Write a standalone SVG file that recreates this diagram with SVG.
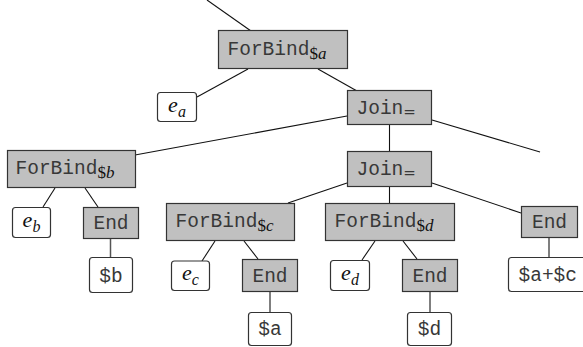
<svg xmlns="http://www.w3.org/2000/svg" width="583" height="347" viewBox="0 0 583 347">
  <style>
    .op { fill: #c0c0c0; stroke: #333; stroke-width: 1.2; }
    .val { fill: #fff; stroke: #333; stroke-width: 1.2; }
    .mono { font-family: "Liberation Mono", "Courier New", monospace; font-size: 19.5px; fill: #383838; }
    .math { font-family: "Liberation Serif", "Times New Roman", serif; font-size: 22px; font-style: italic; fill: #111; }
    .sub { font-family: "Liberation Serif", "Times New Roman", serif; font-size: 17px; font-style: normal; fill: #111; }
    .esub { font-family: "Liberation Serif", "Times New Roman", serif; font-size: 16px; font-style: italic; }
    .it { font-style: italic; }
    .eq { font-family: "DejaVu Sans", sans-serif; font-size: 15px; }
    .edge { stroke: #111; stroke-width: 1.1; fill: none; }
    .stem { stroke: #555; stroke-width: 1.5; fill: none; }
  </style>

  <!-- tree edges -->
  <g id="connectors">
    <line class="edge" x1="207" y1="0" x2="251" y2="31"/>
    <line class="edge" x1="248" y1="69" x2="197" y2="97"/>
    <line class="edge" x1="318" y1="69" x2="357" y2="91"/>
    <line class="edge" x1="432" y1="120" x2="540" y2="152"/>
    <line class="edge" x1="347" y1="116" x2="135" y2="155"/>
    <line class="edge" x1="389.5" y1="125" x2="389.5" y2="152"/>
    <line class="edge" x1="55" y1="188" x2="43" y2="207"/>
    <line class="edge" x1="85" y1="188" x2="98" y2="207"/>
    <line class="stem" x1="110.5" y1="239" x2="110.5" y2="257"/>
    <line class="edge" x1="347" y1="183" x2="288" y2="203"/>
    <line class="edge" x1="215" y1="241" x2="202" y2="261"/>
    <line class="edge" x1="244" y1="241" x2="258" y2="259"/>
    <line class="stem" x1="270" y1="292" x2="270" y2="312"/>
    <line class="edge" x1="389.5" y1="187" x2="389.5" y2="203"/>
    <line class="edge" x1="375" y1="241" x2="362" y2="260"/>
    <line class="edge" x1="403" y1="241" x2="417" y2="259"/>
    <line class="stem" x1="430" y1="292" x2="430" y2="312"/>
    <line class="edge" x1="432" y1="183" x2="521" y2="213"/>
    <line class="stem" x1="549" y1="238" x2="549" y2="257"/>
  </g>

  <g id="forbind-a">
    <rect class="op" x="218.5" y="30.5" width="129" height="38"/>
    <text class="mono" x="227.5" y="55">ForBind<tspan class="sub" dy="4">$</tspan><tspan class="sub it">a</tspan></text>
  </g>
  <g id="e-a">
    <rect class="val" x="157.5" y="92.5" width="39" height="29" rx="3"/>
    <text class="math" x="177" y="112" text-anchor="middle">e<tspan class="esub" dy="5">a</tspan></text>
  </g>
  <g id="join-1">
    <rect class="op" x="347.5" y="90.5" width="84" height="34"/>
    <text class="mono" x="356.5" y="114">Join<tspan class="eq" dy="3">=</tspan></text>
  </g>
  <g id="join-2">
    <rect class="op" x="347.5" y="151.5" width="84" height="35"/>
    <text class="mono" x="356.5" y="175">Join<tspan class="eq" dy="3">=</tspan></text>
  </g>

  <g id="forbind-b">
    <rect class="op" x="7.5" y="150.5" width="128" height="37"/>
    <text class="mono" x="15.5" y="173.5">ForBind<tspan class="sub" dy="4">$</tspan><tspan class="sub it">b</tspan></text>
  </g>
  <g id="e-b">
    <rect class="val" x="12.5" y="207.5" width="38" height="30" rx="3"/>
    <text class="math" x="31.5" y="227" text-anchor="middle">e<tspan class="esub" dy="5">b</tspan></text>
  </g>
  <g id="end-b">
    <rect class="op" x="83.5" y="207.5" width="55" height="31"/>
    <text class="mono" x="111" y="229" text-anchor="middle">End</text>
  </g>
  <g id="var-b">
    <rect class="val" x="89.5" y="257.5" width="43" height="35" rx="3"/>
    <text class="mono" x="111" y="281.5" text-anchor="middle">$b</text>
  </g>

  <g id="forbind-c">
    <rect class="op" x="166.5" y="203.5" width="128" height="37"/>
    <text class="mono" x="175.5" y="227">ForBind<tspan class="sub" dy="4">$</tspan><tspan class="sub it">c</tspan></text>
  </g>
  <g id="e-c">
    <rect class="val" x="171.5" y="261" width="38" height="29.5" rx="3"/>
    <text class="math" x="190.5" y="280" text-anchor="middle">e<tspan class="esub" dy="5">c</tspan></text>
  </g>
  <g id="end-c">
    <rect class="op" x="242.5" y="259.5" width="55" height="32"/>
    <text class="mono" x="270" y="281.5" text-anchor="middle">End</text>
  </g>
  <g id="var-a">
    <rect class="val" x="248.5" y="312.5" width="43" height="33" rx="3"/>
    <text class="mono" x="270" y="335" text-anchor="middle">$a</text>
  </g>

  <g id="forbind-d">
    <rect class="op" x="325.5" y="203.5" width="129" height="37"/>
    <text class="mono" x="334.5" y="227">ForBind<tspan class="sub" dy="4">$</tspan><tspan class="sub it">d</tspan></text>
  </g>
  <g id="e-d">
    <rect class="val" x="330.5" y="260.5" width="39" height="30" rx="3"/>
    <text class="math" x="350" y="280" text-anchor="middle">e<tspan class="esub" dy="5">d</tspan></text>
  </g>
  <g id="end-d">
    <rect class="op" x="402.5" y="259.5" width="55" height="32"/>
    <text class="mono" x="430" y="281.5" text-anchor="middle">End</text>
  </g>
  <g id="var-d">
    <rect class="val" x="407.5" y="312.5" width="44" height="33" rx="3"/>
    <text class="mono" x="429.5" y="335" text-anchor="middle">$d</text>
  </g>

  <g id="end-result">
    <rect class="op" x="521.5" y="206.5" width="56" height="31"/>
    <text class="mono" x="549.5" y="228" text-anchor="middle">End</text>
  </g>
  <g id="result">
    <rect class="val" x="508.5" y="257.5" width="80" height="34" rx="3"/>
    <text class="mono" x="518.5" y="281">$a+$c</text>
  </g>
</svg>
